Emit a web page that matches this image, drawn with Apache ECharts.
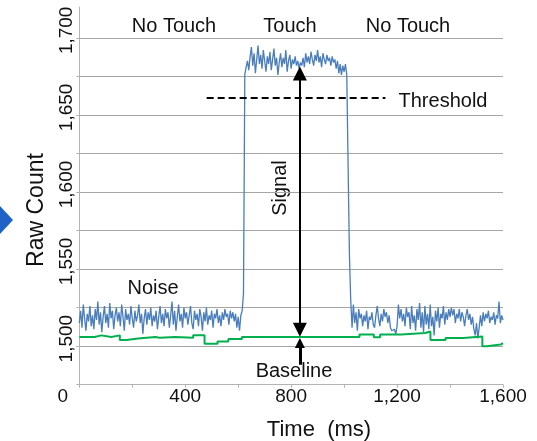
<!DOCTYPE html>
<html>
<head>
<meta charset="utf-8">
<script src="https://cdn.jsdelivr.net/npm/echarts@6/dist/echarts.min.js"></script>
<style>
  html, body { margin: 0; padding: 0; background: #ffffff; }
  #chart { width: 537px; height: 441px; }
</style>
</head>
<body>
<div id="chart"></div>
<script>
// Raw sensor count sampled every 5 ms (0 .. 1600 ms)
const sampleStepMs = 5;
const rawCount = [
  // 0 - 615 ms: no touch
  1515, 1523, 1512, 1527, 1518, 1510, 1521, 1516, 1526, 1513, 1520, 1511, 1524, 1517, 1529, 1514,
  1522, 1509, 1519, 1526, 1515, 1521, 1512, 1528, 1518, 1523, 1511, 1520, 1525, 1516, 1522, 1513,
  1527, 1519, 1510, 1524, 1517, 1521, 1514, 1526, 1518, 1512, 1523, 1516, 1520, 1527, 1515, 1521,
  1508, 1518, 1524, 1514, 1522, 1517, 1525, 1513, 1520, 1516, 1523, 1511, 1519, 1526, 1515, 1521,
  1513, 1524, 1518, 1522, 1512, 1520, 1529, 1514, 1523, 1510, 1519, 1527, 1516, 1521, 1512, 1525,
  1518, 1522, 1514, 1520, 1526, 1515, 1511, 1523, 1517, 1521, 1513, 1524, 1519, 1510, 1522, 1516,
  1525, 1514, 1520, 1517, 1523, 1512, 1521, 1518, 1524, 1515, 1520, 1513, 1522, 1517, 1524, 1519,
  1521, 1514, 1523, 1518, 1522, 1516, 1521, 1512, 1519, 1510, 1520, 1523,
  // 620 ms: rising edge
  1534,
  // 625 - 1010 ms: touch
  1676, 1681, 1685, 1679, 1688, 1694, 1682, 1690, 1677, 1686, 1695, 1683, 1689, 1680, 1692, 1685,
  1678, 1688, 1683, 1691, 1679, 1686, 1693, 1682, 1687, 1676, 1684, 1690, 1681, 1687, 1683, 1692,
  1678, 1685, 1689, 1680, 1686, 1683, 1688, 1682, 1685, 1680, 1684, 1682, 1687, 1681, 1690, 1684,
  1688, 1683, 1691, 1686, 1682, 1689, 1685, 1692, 1684, 1688, 1681, 1690, 1686, 1683, 1689, 1685,
  1687, 1682, 1688, 1684, 1686, 1680, 1685, 1677, 1683, 1676, 1682, 1678, 1683, 1676,
  // 1015 - 1025 ms: falling edge
  1676, 1560, 1530,
  // 1030 - 1600 ms: no touch
  1512, 1527, 1515, 1522, 1510, 1524, 1518, 1521, 1513, 1520, 1516, 1523, 1511, 1519, 1517, 1522,
  1514, 1512, 1520, 1526, 1518, 1513, 1521, 1516, 1524, 1519, 1522, 1515, 1520, 1512, 1510, 1509,
  1511, 1508, 1513, 1527, 1518, 1524, 1516, 1521, 1513, 1525, 1519, 1522, 1511, 1526, 1515, 1520,
  1510, 1524, 1517, 1528, 1512, 1522, 1509, 1526, 1514, 1521, 1511, 1527, 1513, 1519, 1507, 1523,
  1516, 1525, 1512, 1521, 1518, 1526, 1514, 1522, 1517, 1524, 1519, 1525, 1520, 1524, 1515, 1521,
  1518, 1524, 1516, 1522, 1519, 1513, 1520, 1524, 1517, 1521, 1514, 1519, 1511, 1507, 1515, 1505,
  1512, 1520, 1513, 1522, 1516, 1521, 1518, 1523, 1515, 1519, 1517, 1522, 1514, 1520, 1518, 1529,
  1515, 1520, 1517
];

// Tracked baseline: [time ms, count], held until the next entry
const baselineSteps = [
  [0, 1506], [58, 1507], [83, 1506], [121, 1507], [153, 1504], [178, 1505], [222, 1506],
  [287, 1505.5], [304, 1506], [362, 1505.5], [430, 1507], [473, 1501.5], [522, 1503],
  [563, 1504.7], [614, 1506], [1058, 1507.5], [1112, 1505.8], [1136, 1507.5], [1215, 1508.5],
  [1306, 1509.5], [1326, 1504], [1383, 1505.3], [1450, 1506.3], [1522, 1500], [1539, 1501],
  [1591, 1502], [1600, 1502]
];

// Touch threshold level and the span it is drawn across
const thresholdLevel = 1661;
const thresholdFrom = 481;
const thresholdTo = 1156;

// Signal arrow between baseline and touch level
const signalTime = 833;
const signalLow = 1510.7;
const signalHigh = 1676.8;
const baselineArrowFrom = 1488;
const baselineArrowTo = 1502.1;

// Axis ranges
const xMin = 0, xMax = 1600, xStep = 200, xLabelStep = 400;
const yMin = 1475, yMax = 1720, yStep = 25, yLabelStep = 50;

const FONT = '"Liberation Sans", Arial, Helvetica, sans-serif';
const INK = '#111111';

const rawSeries = rawCount.map((v, i) => [i * sampleStepMs, v]);

function withCommas(v) {
  return String(v).replace(/\B(?=(\d{3})+(?!\d))/g, ',');
}

const chart = echarts.init(document.getElementById('chart'), null, { renderer: 'canvas' });

chart.setOption({
  animation: false,
  backgroundColor: '#ffffff',
  grid: { left: 79.3, right: 34, top: 7, bottom: 56.3, containLabel: false },
  xAxis: {
    type: 'value',
    min: xMin, max: xMax, interval: xStep,
    axisLine: { show: true, lineStyle: { color: '#b3b3b3', width: 1 } },
    axisTick: { show: true, length: 3, lineStyle: { color: '#b3b3b3' } },
    splitLine: { show: false },
    axisLabel: {
      margin: 3,
      color: INK,
      fontFamily: FONT,
      fontSize: 19,
      formatter: v => {
        if (v % xLabelStep !== 0) return '';
        if (v === 0) return '{zero|0}';
        return withCommas(v);
      },
      rich: {
        zero: { fontFamily: FONT, fontSize: 19, color: INK, padding: [0, 33, 0, 0] }
      }
    }
  },
  yAxis: {
    type: 'value',
    min: yMin, max: yMax, interval: yStep,
    axisLine: { show: true, lineStyle: { color: '#b3b3b3', width: 1 } },
    axisTick: { show: true, length: 3, lineStyle: { color: '#b3b3b3' } },
    splitLine: {
      show: true, showMinLine: false, showMaxLine: false,
      lineStyle: { color: '#a6a6a6', width: 1 }
    },
    axisLabel: {
      rotate: 90,
      margin: 3,
      color: INK,
      fontFamily: FONT,
      fontSize: 19,
      showMaxLabel: false,
      formatter: v => (v % yLabelStep === 0 && v <= 1700 ? '{t|' + withCommas(v) + '}' : ''),
      rich: {
        t: { fontFamily: FONT, fontSize: 19, color: INK, padding: [0, 0, 0, 15] }
      }
    }
  },
  series: [
    {
      name: 'Raw Count',
      type: 'line',
      data: rawSeries,
      showSymbol: false,
      silent: true,
      lineStyle: { color: '#4a7ebb', width: 1.3 },
      z: 3
    },
    {
      name: 'Baseline',
      type: 'line',
      step: 'end',
      data: baselineSteps,
      showSymbol: false,
      silent: true,
      lineStyle: { color: '#00b04f', width: 2 },
      z: 4
    },
    {
      name: 'Threshold',
      type: 'line',
      data: [[thresholdFrom, thresholdLevel], [thresholdTo, thresholdLevel]],
      showSymbol: false,
      silent: true,
      lineStyle: { color: '#000000', width: 2, type: [7, 4] },
      z: 5
    },
    {
      name: 'Signal',
      type: 'lines',
      coordinateSystem: 'cartesian2d',
      silent: true,
      symbol: ['triangle', 'triangle'],
      symbolSize: [14, 14],
      lineStyle: { color: '#000000', width: 2, opacity: 1 },
      data: [{ coords: [[signalTime, signalLow], [signalTime, signalHigh]] }],
      z: 6
    },
    {
      name: 'Baseline marker',
      type: 'lines',
      coordinateSystem: 'cartesian2d',
      silent: true,
      symbol: ['none', 'triangle'],
      symbolSize: [10, 10],
      lineStyle: { color: '#000000', width: 3, opacity: 1 },
      data: [{ coords: [[signalTime, baselineArrowFrom], [signalTime, baselineArrowTo]] }],
      z: 6
    }
  ],
  graphic: [
    { type: 'polygon', shape: { points: [[0, 206], [13, 220], [0, 234]] }, style: { fill: '#1f63c6' } },
    { type: 'text', x: 37, y: 210, rotation: Math.PI / 2,
      style: { text: 'Raw Count', font: '23px ' + FONT, fill: INK, align: 'center', verticalAlign: 'middle' } },
    { type: 'text', x: 319, y: 430,
      style: { text: 'Time  (ms)', font: '22px ' + FONT, fill: INK, align: 'center', verticalAlign: 'middle' } },
    { type: 'text', x: 174, y: 26,
      style: { text: 'No Touch', font: '20px ' + FONT, fill: INK, align: 'center', verticalAlign: 'middle' } },
    { type: 'text', x: 290, y: 26,
      style: { text: 'Touch', font: '20px ' + FONT, fill: INK, align: 'center', verticalAlign: 'middle' } },
    { type: 'text', x: 408, y: 26,
      style: { text: 'No Touch', font: '20px ' + FONT, fill: INK, align: 'center', verticalAlign: 'middle' } },
    { type: 'text', x: 443, y: 101,
      style: { text: 'Threshold', font: '20px ' + FONT, fill: INK, align: 'center', verticalAlign: 'middle' } },
    { type: 'text', x: 280, y: 188, rotation: Math.PI / 2,
      style: { text: 'Signal', font: '20px ' + FONT, fill: INK, align: 'center', verticalAlign: 'middle' } },
    { type: 'text', x: 153, y: 288,
      style: { text: 'Noise', font: '20px ' + FONT, fill: INK, align: 'center', verticalAlign: 'middle' } },
    { type: 'text', x: 294, y: 371,
      style: { text: 'Baseline', font: '20px ' + FONT, fill: INK, align: 'center', verticalAlign: 'middle' } }
  ]
});
</script>
</body>
</html>
